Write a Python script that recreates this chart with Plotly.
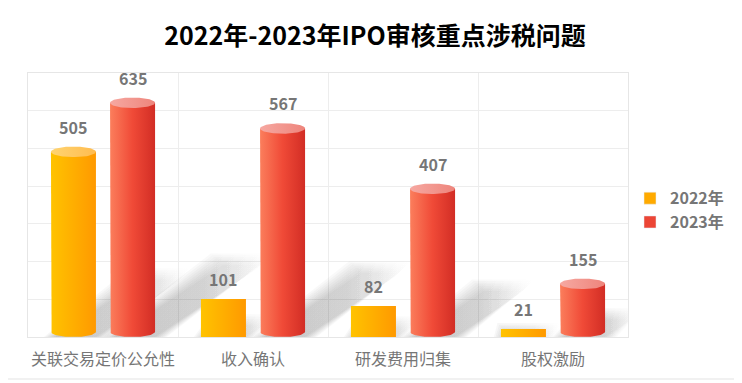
import numpy as np
import plotly.graph_objects as go

categories = ["关联交易定价公允性", "收入确认", "研发费用归集", "股权激励"]
series_names = ["2022年", "2023年"]
values_2022 = [505, 101, 82, 21]
values_2023 = [635, 567, 407, 155]

# ---- style / layout parameters ----
FONT = "Noto Sans CJK SC"
GRAY = "#767676"
GRID = "#EDEDED"
Y_MAX = 700
OFFSETS = [-0.197, 0.197]
HW = 0.15          # half bar width (category units)
RY = 14            # ellipse half-height (value units)
CAP_MIN = 150      # bars this tall get rounded cylinder ends
body_scales = [
    [[0, "#FFC300"], [1, "#FF9900"]],
    [[0, "#FB7E5C"], [0.5, "#F04A37"], [1, "#D22D25"]],
]
cap_scales = [
    [[0, "#FFD470"], [1, "#FFBC50"]],
    [[0, "#F6A8A1"], [1, "#EE857C"]],
]
legend_colors = ["#FFAA00", "#EC4535"]

# page has an 8px body margin -> figure is drawn 8px in from the window edge
OFF = 8
W, H = 742 - OFF, 383 - OFF
L, T = 28 - OFF, 73 - OFF
R, B = W - (628 - OFF), H - (337 - OFF)
PW, PH = W - L - R, H - T - B
PX_X = PW / 4.0            # px per category unit
PX_Y = PH / float(Y_MAX)   # px per value unit

all_series = [values_2022, values_2023]
fig = go.Figure()

# soft shadows (beneath everything)
for s, vals in enumerate(all_series):
    for i, v in enumerate(vals):
        c = i + OFFSETS[s]
        h_px = v * PX_Y
        dx = 0.45 * h_px / PX_X
        dy = 0.30 * h_px / PX_Y
        for k in range(8):
            g = 0.011 * k            # spread in category units
            gy = g * PX_X / PX_Y     # same spread in value units
            a = 0.032
            xs = [c - HW + 0.03 - g, c + HW + g, c + HW + dx + g, c - HW + dx + 0.03 - g, c - HW + 0.03 - g]
            ys = [0, 0, dy + gy, dy + gy, 0]
            fig.add_trace(go.Scatter(
                x=xs, y=ys, mode="lines", fill="toself",
                line=dict(width=0, color="rgba(0,0,0,0)"),
                fillgradient=dict(type="horizontal",
                                  colorscale=[[0, f"rgba(0,0,0,{a})"], [0.6, f"rgba(0,0,0,{a*0.75})"],
                                              [1, "rgba(0,0,0,0)"]]),
                hoverinfo="skip", showlegend=False))

t_bot = np.linspace(np.pi, 2 * np.pi, 40)
t_full = np.linspace(0, 2 * np.pi, 80)

for s, vals in enumerate(all_series):
    # legend entry
    fig.add_trace(go.Bar(x=[None], y=[None], name=series_names[s],
                         marker=dict(color=legend_colors[s]), showlegend=True))
    for i, v in enumerate(vals):
        c = i + OFFSETS[s]
        if v >= CAP_MIN:
            xs = [c - HW] + list(c + HW * np.cos(t_bot)) + [c + HW, c - HW]
            ys = [v - RY] + list(RY + RY * np.sin(t_bot)) + [v - RY, v - RY]
        else:
            xs = [c - HW, c + HW, c + HW, c - HW, c - HW]
            ys = [0, 0, v, v, 0]
        fig.add_trace(go.Scatter(
            x=xs, y=ys, mode="lines", fill="toself",
            line=dict(width=0, color="rgba(0,0,0,0)"),
            fillgradient=dict(type="horizontal", colorscale=body_scales[s]),
            name=series_names[s], hovertemplate=f"{categories[i]}<br>{series_names[s]}: {v}<extra></extra>",
            showlegend=False))
        if v >= CAP_MIN:
            fig.add_trace(go.Scatter(
                x=list(c + HW * np.cos(t_full)), y=list(v - RY + RY * np.sin(t_full)),
                mode="lines", fill="toself",
                line=dict(width=0, color="rgba(0,0,0,0)"),
                fillgradient=dict(type="horizontal", colorscale=cap_scales[s]),
                hoverinfo="skip", showlegend=False))
        fig.add_annotation(x=c, y=v, text=str(v), showarrow=False, yshift=20,
                           yanchor="middle",
                           font=dict(family=FONT, size=16, color=GRAY, weight="bold"))

# outer frame (window coords 6..737 x 5..380)
fig.add_shape(type="rect", xref="paper", yref="paper",
              x0=(6 - OFF - L) / PW, x1=(736 - OFF - L) / PW,
              y0=(H - B - (379 - OFF)) / PH, y1=(H - B - (5 - OFF)) / PH,
              line=dict(color="#E3E3E3", width=1), layer="below")

fig.update_layout(
    width=W, height=H,
    margin=dict(l=L, r=R, t=T, b=B, autoexpand=False),
    paper_bgcolor="white", plot_bgcolor="white",
    title=dict(text="<b>2022年-2023年IPO审核重点涉税问题</b>", x=0.5,
               xanchor="center", y=1 - (36 - OFF) / H, yanchor="middle",
               font=dict(family=FONT, size=25, color="#000000")),
    showlegend=True,
    legend=dict(x=(630 - OFF - L) / PW, xanchor="left", y=0.48, yanchor="middle",
                font=dict(family=FONT, size=16, color=GRAY, weight="bold"),
                bgcolor="rgba(0,0,0,0)"),
    xaxis=dict(range=[-0.5, 3.5], tickmode="array", tickvals=list(range(len(categories))),
               ticktext=categories, showgrid=False, zeroline=False, automargin=False,
               showline=True, mirror=True, linecolor="#E6E6E6", linewidth=1,
               ticks="", ticklabelstandoff=8,
               tickfont=dict(family=FONT, size=16, color=GRAY),
               minor=dict(tickmode="array", tickvals=[0.5, 1.5, 2.5], showgrid=True,
                          gridcolor=GRID, gridwidth=1, ticks="")),
    yaxis=dict(range=[0, Y_MAX], dtick=100, showgrid=True, gridcolor=GRID, gridwidth=1,
               zeroline=False, showticklabels=False, showline=True, mirror=True,
               automargin=False, linecolor="#E6E6E6", ticks=""),
)

fig.write_html("out.html")
